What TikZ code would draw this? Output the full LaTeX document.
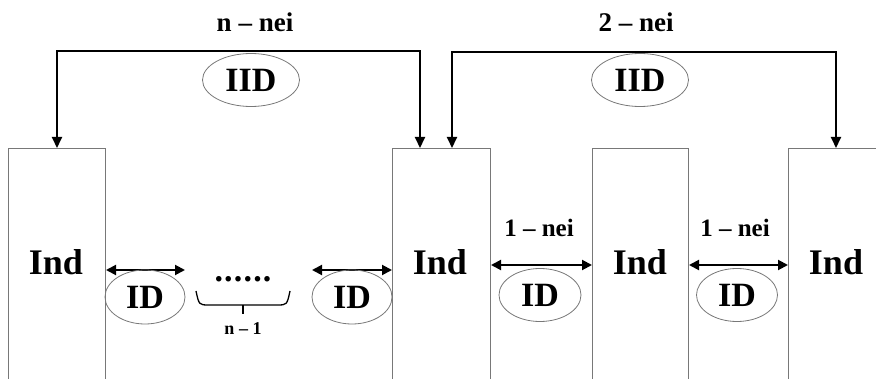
\documentclass[tikz,border=0pt]{standalone}
\usepackage{fontspec}
\setmainfont{Liberation Serif}
\usetikzlibrary{arrows.meta,shapes.geometric}
\definecolor{edgegray}{RGB}{120,120,120}
\tikzset{
  indbox/.style={draw=edgegray,line width=1pt,minimum width=97pt,minimum height=260pt,anchor=north west,inner sep=0pt},
  bigtxt/.style={font=\fontsize{36}{40}\selectfont\bfseries,inner sep=0pt,anchor=base},
  neitxt/.style={font=\fontsize{27}{30}\selectfont\bfseries,inner sep=0pt,anchor=base},
  smalltxt/.style={font=\fontsize{18}{20}\selectfont\bfseries,inner sep=0pt,anchor=base},
  oval/.style={ellipse,draw=edgegray,line width=0.8pt,inner sep=0pt,font=\fontsize{34}{36}\selectfont\bfseries},
  conn/.style={line width=2pt,{Triangle[length=11pt,width=10pt]}-{Triangle[length=11pt,width=10pt]}},
  darr/.style={line width=2pt,{Triangle[length=10pt,width=10pt]}-{Triangle[length=10pt,width=10pt]}},
}
\begin{document}
\begin{tikzpicture}[x=1pt,y=-1pt]
\useasboundingbox (0,0) rectangle (876,379);
\clip (0,0) rectangle (876,379);
% boxes
\node[indbox] (b1) at (8,148) {};
\node[indbox,minimum width=98pt] (b2) at (392,148) {};
\node[indbox,minimum width=96pt] (b3) at (592,148) {};
\node[indbox] (b4) at (788,148) {};
% Ind labels
\node[bigtxt] (l1) at (56,275) {Ind};
\node[bigtxt] (l2) at (440,275) {Ind};
\node[bigtxt] (l3) at (640,275) {Ind};
\node[bigtxt] (l4) at (836,275) {Ind};
% top connectors
\coordinate (p2) at (420,148);
\coordinate (p3) at (452,148);
\coordinate (p4) at (836,148);
\draw[conn] (b1.north) -- ++(0,-97) -| (p2);
\draw[conn] (p3) -- ++(0,-96) -| (p4);
\node[neitxt] (t1) at (255,32) {n – nei};
\node[neitxt] (t2) at (636,32) {2 – nei};
\node[oval,minimum width=97pt,minimum height=53pt] (iid1) at (251,80) {IID};
\node[oval,minimum width=97pt,minimum height=53pt] (iid2) at (640,80) {IID};
% lower double arrows
\coordinate (ya) at (0,270);
\coordinate (yb) at (0,265);
\coordinate (e1) at (185,270);
\coordinate (e2) at (312,270);
\draw[darr] (b1.east |- ya) -- (e1);
\draw[darr] (e2) -- (b2.west |- ya);
\draw[darr] (b2.east |- yb) -- (b3.west |- yb);
\draw[darr] (b3.east |- yb) -- (b4.west |- yb);
\node[oval,minimum width=80pt,minimum height=54pt] (id1) at (145,297) {ID};
\node[oval,minimum width=80pt,minimum height=54pt] (id2) at (352,297) {ID};
\node[oval,minimum width=82pt,minimum height=53pt] (id3) at (540,295) {ID};
\node[oval,minimum width=81pt,minimum height=53pt] (id4) at (737,295) {ID};
\node[neitxt,font=\fontsize{25}{28}\selectfont\bfseries] (n1) at (539,237) {1 – nei};
\node[neitxt,font=\fontsize{25}{28}\selectfont\bfseries] (n2) at (735,237) {1 – nei};
% dots and brace
\node[font=\fontsize{34}{36}\selectfont\bfseries,inner sep=0pt,anchor=base] (dots) at (243,282) {.\kern1.2pt.\kern1.2pt.\kern1.2pt.\kern1.2pt.\kern1.2pt.};
\draw[line width=1.3pt] (196,291) .. controls (199,305) .. (209,305) -- (277,305) .. controls (287,305) .. (290,291);
\coordinate (bt) at (243,305);
\coordinate (bb) at (243,314);
\draw[line width=1.3pt] (bt) -- (bb);
\node[smalltxt] (nm1) at (243,335) {n – 1};
\end{tikzpicture}
\end{document}
